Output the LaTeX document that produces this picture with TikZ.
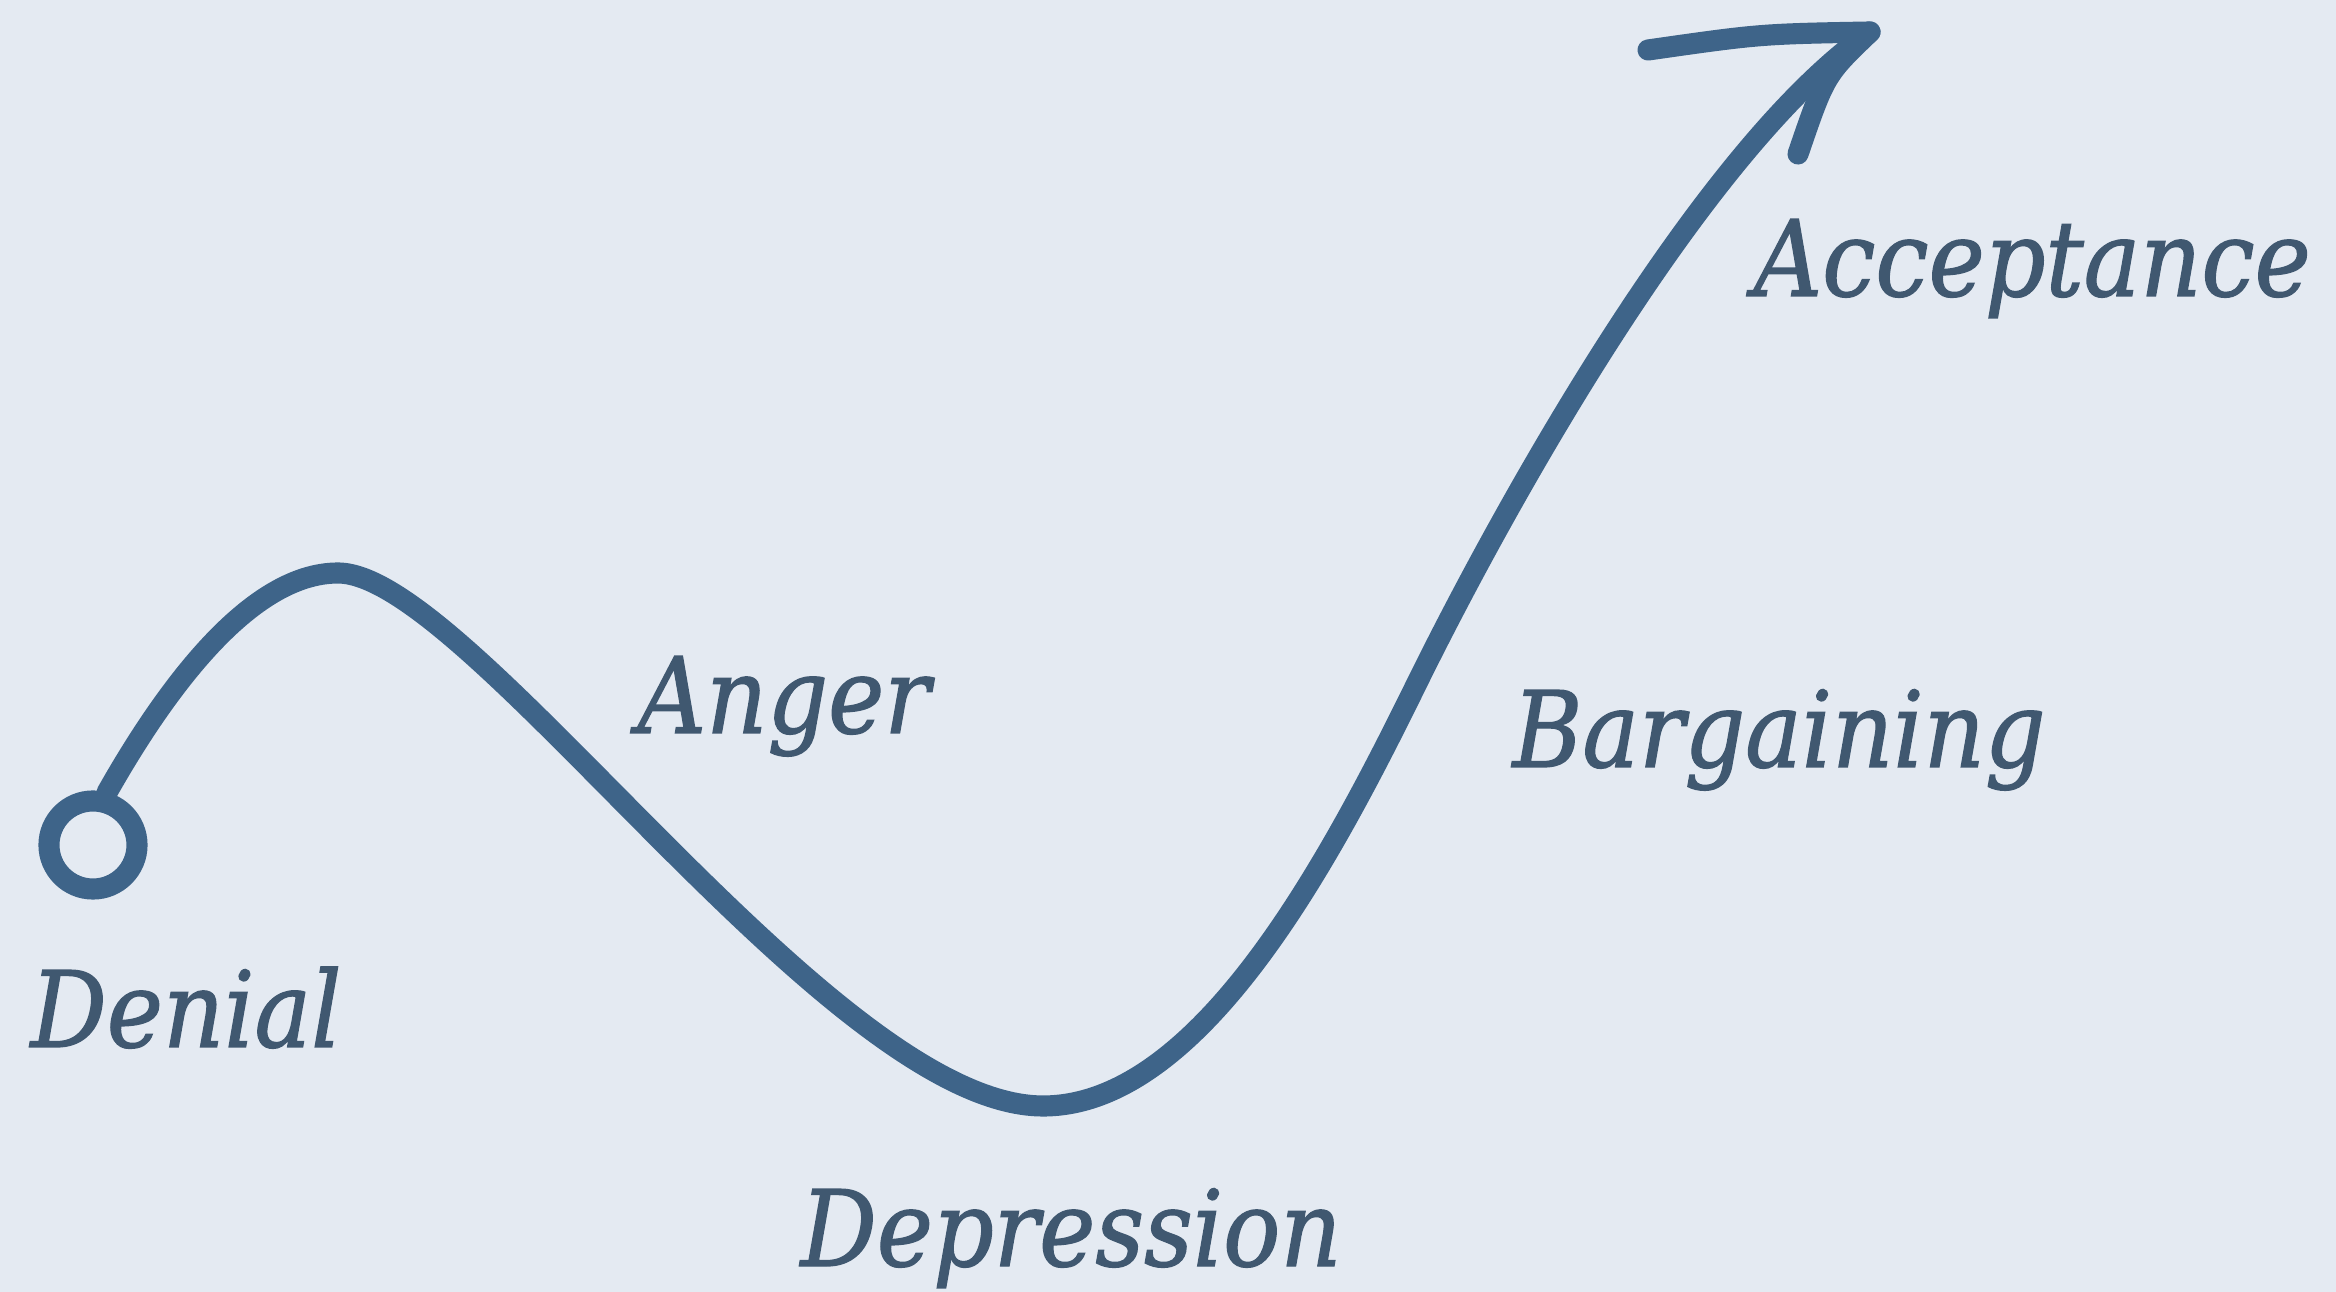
\documentclass[tikz,border=0pt]{standalone}
\usepackage{fontspec}
\usepackage{xcolor}
\usepackage{tikz}
\setmainfont{DejaVu Serif}[FakeStretch=0.9,ItalicFeatures={FakeBold=1.2}]
\definecolor{GriefBack}{HTML}{E4EAF2}
\definecolor{GriefLine}{HTML}{3E6489}
\definecolor{GriefText}{HTML}{405870}
\tikzset{
  griefstroke/.style={GriefLine, line width=6pt, line cap=round, line join=round},
  stagelabel/.style={GriefText, anchor=base west, inner sep=0pt, font=\fontsize{30pt}{36pt}\selectfont\itshape}
}

\begin{document}
\begin{tikzpicture}[x=0.01cm,y=-0.01cm]
        \useasboundingbox (0,0) rectangle (2336,1292);
        \fill[GriefBack] (0,0) rectangle (2336,1292);
        % start ring and the curve through the stages
        \node[draw=GriefLine, line width=6pt, circle, inner sep=0pt, minimum size=0.88cm] (ring) at (93,845) {};
        \coordinate (peak) at (338,573);
        \coordinate (trough) at (1043,1106);
        \coordinate (rise) at (1416,685);
        \coordinate (tip) at (1870,32);
        \coordinate (barbL) at (1648,50);
        \coordinate (barbR) at (1798,154);
        \draw[griefstroke] (ring.75) .. controls (165,690) and (250,573) .. (peak)
          .. controls (470,573) and (830,1106) .. (trough)
          .. controls (1200,1106) and (1330,860) .. (rise)
          .. controls (1500,514) and (1700,150) .. (tip);
        \draw[griefstroke] (barbL) .. controls (1760,34) .. (tip) .. controls (1825,75) .. (barbR);
        % stage names
        \node[stagelabel] (denial) at (30,1047) {Denial};
        \node[stagelabel] (anger) at (637,733) {Anger};
        \node[stagelabel] (depression) at (800,1266) {Depression};
        \node[stagelabel] (bargaining) at (1512,767) {Bargaining};
        \node[stagelabel] (acceptance) at (1753,296) {Acceptance};
      \end{tikzpicture}
\end{document}
